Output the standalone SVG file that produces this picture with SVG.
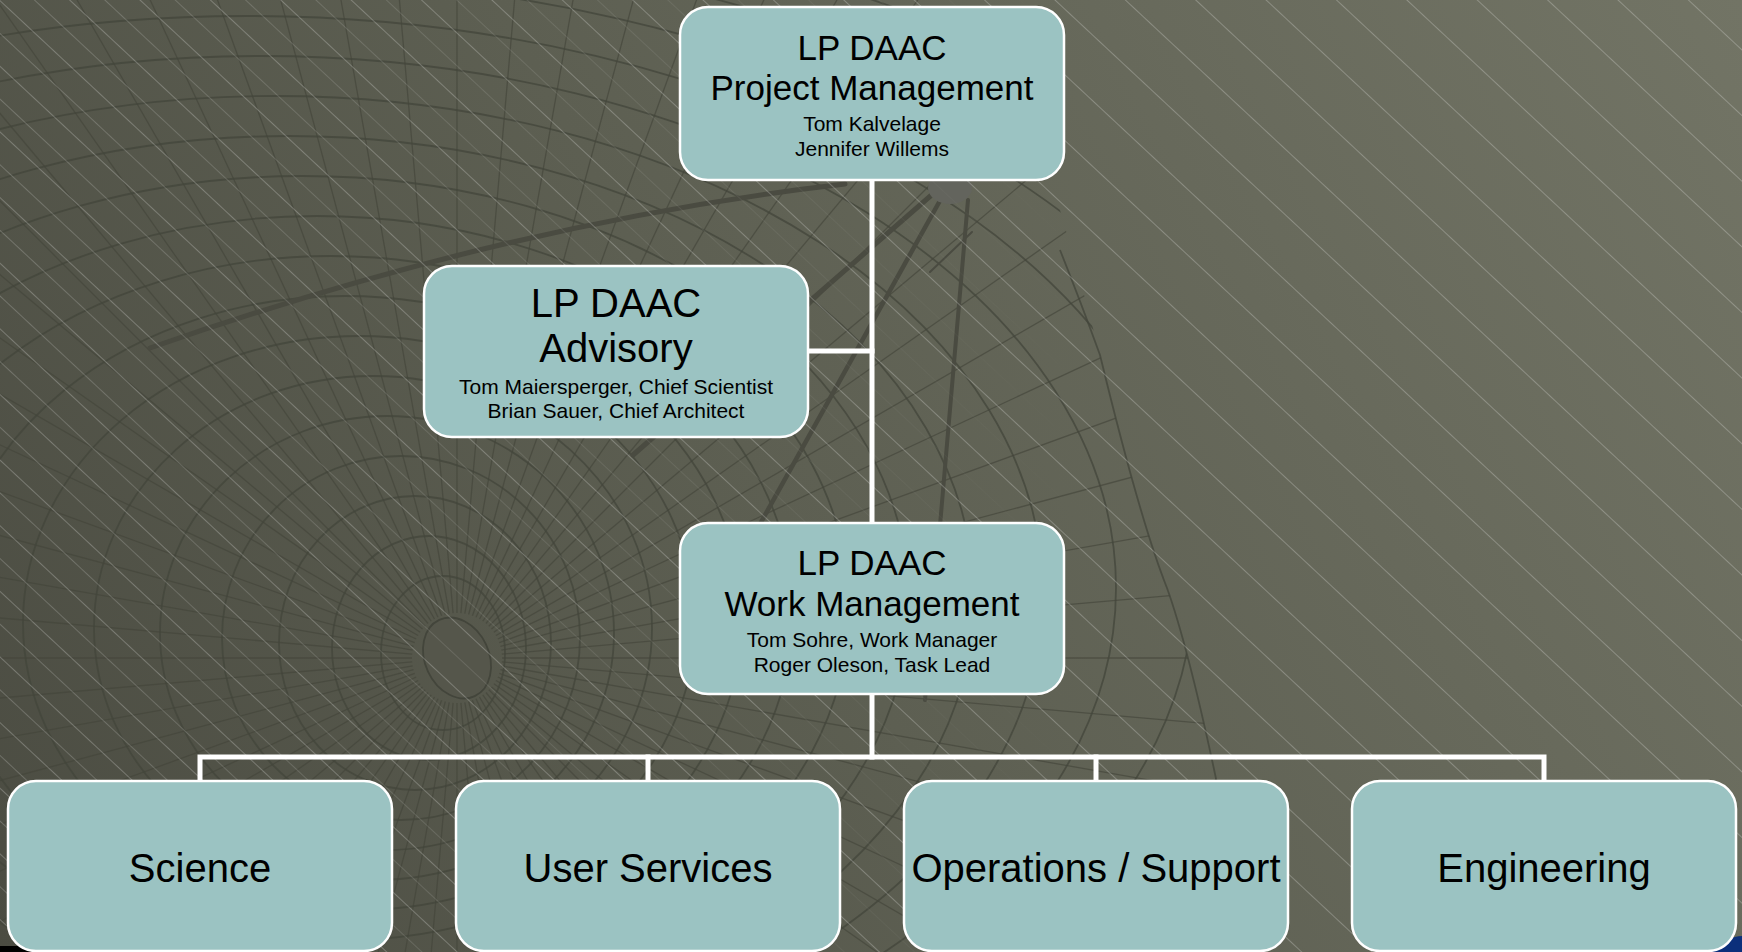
<svg xmlns="http://www.w3.org/2000/svg" xmlns:xlink="http://www.w3.org/1999/xlink" width="1742" height="952" viewBox="0 0 1742 952">
  <defs>
    <linearGradient id="bgGrad" x1="0" y1="952" x2="1742" y2="0" gradientUnits="userSpaceOnUse">
      <stop offset="0" stop-color="#4b4c42"/>
      <stop offset="0.45" stop-color="#5d5f52"/>
      <stop offset="1" stop-color="#727465"/>
    </linearGradient>
    <linearGradient id="fadeGrad" x1="0" y1="0" x2="1100" y2="0" gradientUnits="userSpaceOnUse">
      <stop offset="0" stop-color="#fff"/>
      <stop offset="1" stop-color="#000"/>
    </linearGradient>
    <mask id="leftFade" maskUnits="userSpaceOnUse" x="0" y="0" width="1742" height="952">
      <rect width="1742" height="952" fill="url(#fadeGrad)"/>
    </mask>
    <!-- fine diagonal hatch -->
    <pattern id="hatchA" width="20" height="48" patternUnits="userSpaceOnUse" patternTransform="rotate(43)">
      <line x1="0" y1="0.5" x2="20" y2="0.5" stroke="#ffffff" stroke-opacity="0.24" stroke-width="1"/>
    </pattern>
    <pattern id="hatchB" width="20" height="48" patternUnits="userSpaceOnUse" patternTransform="rotate(43) translate(0 24)">
      <line x1="0" y1="0.5" x2="20" y2="0.5" stroke="#ffffff" stroke-opacity="0.2" stroke-width="1"/>
    </pattern>
    <clipPath id="sphereClip">
      <path d="M0,0 H990 Q1050,160 1100,355 Q1140,520 1167,588 Q1200,680 1250,952 H0 Z"/>
    </clipPath>
    <line id="ray" x1="502" y1="658" x2="2000" y2="658"/>
    <g id="rayFan">
      <use xlink:href="#ray"/>
      <use xlink:href="#ray" transform="rotate(5 457 658)"/>
      <use xlink:href="#ray" transform="rotate(10 457 658)"/>
      <use xlink:href="#ray" transform="rotate(15 457 658)"/>
      <use xlink:href="#ray" transform="rotate(20 457 658)"/>
      <use xlink:href="#ray" transform="rotate(25 457 658)"/>
      <use xlink:href="#ray" transform="rotate(30 457 658)"/>
      <use xlink:href="#ray" transform="rotate(35 457 658)"/>
      <use xlink:href="#ray" transform="rotate(40 457 658)"/>
    </g>
    <style>
      .grid { fill: none; stroke: #43453b; stroke-opacity: 0.75; stroke-width: 1.8; }
      .rays { fill: none; stroke: #43453b; stroke-opacity: 0.65; stroke-width: 1.3; }
      .bar { fill: none; stroke: #4a4b41; stroke-linecap: round; }
      .box { fill: #9bc3c2; stroke: #ffffff; stroke-width: 2.5; }
      .t { font-family: "Liberation Sans", Arial, sans-serif; fill: #000000; text-anchor: middle; }
      .h35 { font-size: 35px; }
      .h40 { font-size: 40px; }
      .s21 { font-size: 21px; }
      .conn { fill: none; stroke: #ffffff; stroke-width: 5; stroke-linecap: square; }
    </style>
  </defs>

  <!-- backdrop -->
  <g id="background">
    <rect width="1742" height="952" fill="url(#bgGrad)"/>
    <g clip-path="url(#sphereClip)">
      <g class="rays">
        <use xlink:href="#rayFan"/>
        <use xlink:href="#rayFan" transform="rotate(45 457 658)"/>
        <use xlink:href="#rayFan" transform="rotate(90 457 658)"/>
        <use xlink:href="#rayFan" transform="rotate(135 457 658)"/>
        <use xlink:href="#rayFan" transform="rotate(180 457 658)"/>
        <use xlink:href="#rayFan" transform="rotate(225 457 658)"/>
        <use xlink:href="#rayFan" transform="rotate(270 457 658)"/>
        <use xlink:href="#rayFan" transform="rotate(315 457 658)"/>
      </g>
      <g class="grid">
        <ellipse cx="443" cy="653" rx="62" ry="77"/>
        <ellipse cx="429" cy="648" rx="97" ry="112"/>
        <ellipse cx="415" cy="643" rx="136" ry="147"/>
        <ellipse cx="401" cy="638" rx="179" ry="182"/>
        <ellipse cx="387" cy="633" rx="227" ry="217"/>
        <ellipse cx="373" cy="628" rx="279" ry="252"/>
        <ellipse cx="359" cy="623" rx="336" ry="287"/>
        <ellipse cx="345" cy="618" rx="397" ry="322"/>
        <ellipse cx="331" cy="613" rx="462" ry="357"/>
        <ellipse cx="317" cy="608" rx="532" ry="392"/>
        <ellipse cx="303" cy="603" rx="606" ry="427"/>
        <ellipse cx="289" cy="598" rx="685" ry="462"/>
        <ellipse cx="275" cy="593" rx="768" ry="497"/>
        <ellipse cx="261" cy="588" rx="855" ry="532"/>
        <ellipse cx="247" cy="583" rx="947" ry="567"/>
        <ellipse cx="233" cy="578" rx="1043" ry="602"/>
        <ellipse cx="219" cy="573" rx="1144" ry="637"/>
        <ellipse cx="205" cy="568" rx="1249" ry="672"/>
      </g>
      <ellipse cx="457" cy="658" rx="32" ry="42" transform="rotate(-25 457 658)" fill="#55564b" stroke="#43453b" stroke-width="1.8"/>
    </g>
    <!-- outer rim of the globe -->
    <path class="grid" d="M1060,250 Q1080,300 1100,355 Q1140,520 1167,588 Q1200,680 1250,952"/>
    <!-- long sweep and drafting legs -->
    <path class="bar" stroke-width="5" d="M150,348 Q511,222 845,184"/>
    <path class="bar" stroke-width="5" d="M935,192 L633,455"/>
    <path class="bar" stroke-width="4.5" d="M942,197 L740,560"/>
    <path class="bar" stroke-width="4" d="M968,200 L925,700"/>
    <path class="bar" stroke-width="2" d="M972,232 L930,272"/>
    <ellipse cx="950" cy="188" rx="22" ry="16" fill="#63645d"/>
    <!-- hatch -->
    <rect width="1742" height="952" fill="url(#hatchA)"/>
    <rect width="1742" height="952" fill="url(#hatchB)" mask="url(#leftFade)"/>
    <!-- corner marks -->
    <rect x="0" y="946" width="40" height="6" fill="#000000"/>
    <path d="M1710,952 Q1728,936 1742,936 V952 Z" fill="#0b2f7b"/>
  </g>

  <!-- org chart links -->
  <g id="connectors">
    <path class="conn" d="M872,180 V523"/>
    <path class="conn" d="M808,351 H872"/>
    <path class="conn" d="M872,694 V757"/>
    <path class="conn" d="M200,781 V757 H1544 V781"/>
    <path class="conn" d="M648,757 V781"/>
    <path class="conn" d="M1096,757 V781"/>
  </g>

  <g id="project-management">
    <rect class="box" x="680" y="7" width="384" height="173" rx="28"/>
    <text class="t h35" x="872" y="60">LP DAAC</text>
    <text class="t h35" x="872" y="100">Project Management</text>
    <text class="t s21" x="872" y="131">Tom Kalvelage</text>
    <text class="t s21" x="872" y="156">Jennifer Willems</text>
  </g>

  <g id="advisory">
    <rect class="box" x="424" y="266" width="384" height="171" rx="28"/>
    <text class="t h40" x="616" y="317">LP DAAC</text>
    <text class="t h40" x="616" y="362">Advisory</text>
    <text class="t s21" x="616" y="394">Tom Maiersperger, Chief Scientist</text>
    <text class="t s21" x="616" y="418">Brian Sauer, Chief Architect</text>
  </g>

  <g id="work-management">
    <rect class="box" x="680" y="523" width="384" height="171" rx="28"/>
    <text class="t h35" x="872" y="575">LP DAAC</text>
    <text class="t h35" x="872" y="616">Work Management</text>
    <text class="t s21" x="872" y="647">Tom Sohre, Work Manager</text>
    <text class="t s21" x="872" y="672">Roger Oleson, Task Lead</text>
  </g>

  <g id="science">
    <rect class="box" x="8" y="781" width="384" height="170" rx="28"/>
    <text class="t h40" x="200" y="882">Science</text>
  </g>

  <g id="user-services">
    <rect class="box" x="456" y="781" width="384" height="170" rx="28"/>
    <text class="t h40" x="648" y="882">User Services</text>
  </g>

  <g id="operations-support">
    <rect class="box" x="904" y="781" width="384" height="170" rx="28"/>
    <text class="t h40" x="1096" y="882">Operations / Support</text>
  </g>

  <g id="engineering">
    <rect class="box" x="1352" y="781" width="384" height="170" rx="28"/>
    <text class="t h40" x="1544" y="882">Engineering</text>
  </g>
</svg>
